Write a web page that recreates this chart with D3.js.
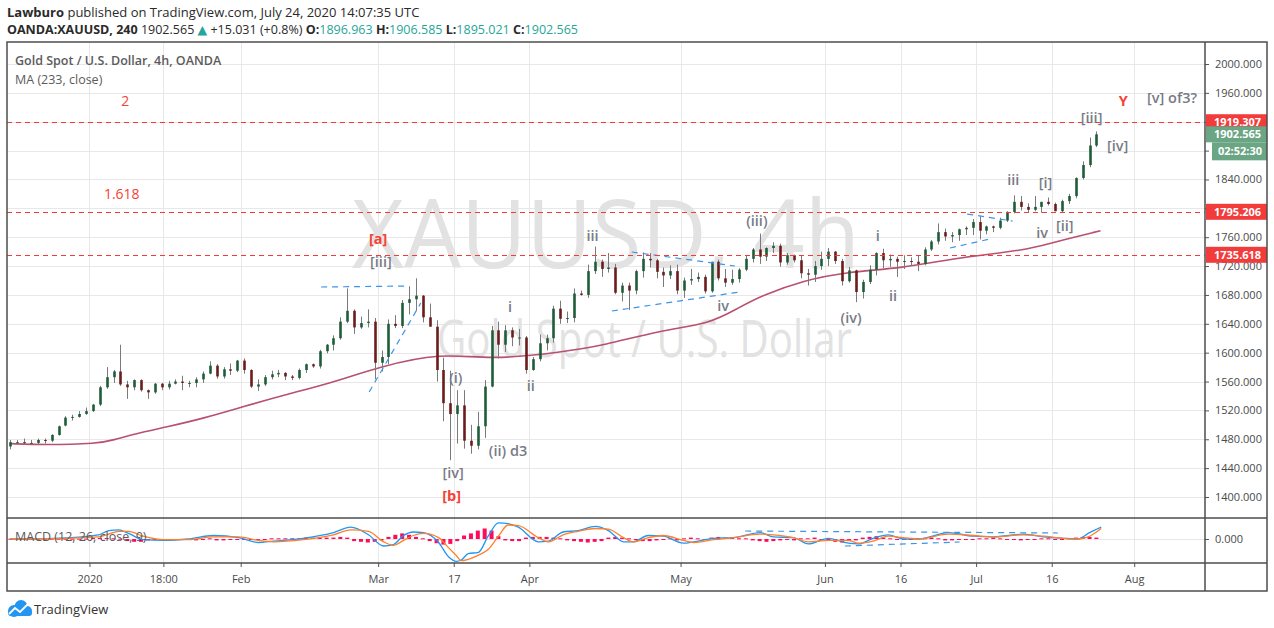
<!DOCTYPE html>
<html><head><meta charset="utf-8">
<script src="https://cdn.jsdelivr.net/npm/d3@7/dist/d3.min.js"></script>
<style>
html,body{margin:0;padding:0;background:#fff;}
svg{display:block;}
text{font-family:"Open Sans","Noto Sans","DejaVu Sans",sans-serif;}
</style></head><body>
<svg id="chart" width="1274" height="628"></svg>
<script>
// ================= DATA =================
const firstDay = "2019-12-13";
const holidays = ["2019-12-25", "2020-01-01"];
// daily [open, high, low, close], one row per trading day from firstDay
const ohlc = [
[1470,1479,1466,1476],[1476,1479,1473,1476],[1476,1481,1473,1475],[1475,1479,1473,1475],[1475,1481,1472,1479],
[1479,1481,1474,1478],[1478,1487,1476,1486],[1486,1499,1485,1498],[1499,1512,1498,1510],[1510,1514,1506,1511],
[1511,1519,1510,1515],[1515,1524,1514,1519],[1519,1529,1518,1528],[1528,1554,1526,1552],[1552,1580,1550,1566],
[1566,1576,1558,1574],[1574,1611,1554,1556],[1556,1561,1536,1552],[1552,1563,1548,1562],[1562,1563,1546,1548],
[1548,1549,1536,1545],[1545,1558,1543,1557],[1557,1558,1548,1552],[1552,1561,1549,1557],[1557,1563,1556,1560],
[1560,1568,1548,1558],[1558,1561,1552,1558],[1558,1566,1552,1563],[1563,1574,1558,1571],[1571,1588,1570,1582],
[1582,1584,1564,1567],[1567,1580,1564,1577],[1577,1585,1569,1575],[1575,1590,1573,1589],[1589,1592,1571,1576],
[1576,1577,1551,1553],[1553,1563,1547,1556],[1556,1569,1554,1566],[1566,1575,1563,1570],[1570,1576,1566,1572],
[1572,1573,1562,1567],[1567,1569,1562,1565],[1565,1578,1563,1576],[1576,1585,1572,1584],[1584,1585,1579,1581],
[1581,1604,1578,1602],[1602,1612,1599,1611],[1611,1624,1603,1620],[1620,1649,1618,1643],[1643,1689,1641,1658],
[1658,1660,1626,1635],[1635,1650,1633,1641],[1641,1660,1635,1643],[1643,1648,1563,1586],[1586,1603,1574,1594],
[1594,1646,1584,1640],[1640,1652,1634,1637],[1637,1673,1634,1669],[1669,1692,1653,1674],[1674,1703,1658,1679],
[1679,1680,1642,1649],[1649,1668,1636,1636],[1636,1645,1560,1576],[1576,1593,1505,1530],[1530,1575,1451,1515],
[1515,1548,1474,1527],[1527,1548,1467,1478],[1478,1500,1460,1471],[1471,1518,1466,1498],[1498,1562,1482,1553],
[1553,1637,1552,1631],[1631,1643,1592,1611],[1611,1638,1601,1631],[1631,1635,1609,1621],[1621,1633,1610,1621],
[1621,1623,1571,1576],[1576,1594,1575,1591],[1591,1625,1588,1613],[1613,1625,1603,1620],[1620,1665,1614,1661],
[1661,1672,1640,1647],[1647,1657,1641,1648],[1648,1689,1642,1682],[1682,1686,1679,1680],[1680,1722,1676,1713],
[1713,1747,1709,1726],[1726,1729,1705,1716],[1716,1738,1711,1718],[1718,1723,1681,1683],[1683,1697,1671,1693],
[1693,1697,1659,1686],[1686,1715,1681,1713],[1713,1739,1704,1730],[1730,1738,1718,1728],[1728,1730,1703,1712],
[1712,1718,1691,1707],[1707,1721,1702,1713],[1713,1722,1681,1686],[1686,1704,1676,1700],[1700,1716,1694,1702],
[1702,1711,1698,1705],[1705,1708,1682,1685],[1685,1726,1683,1726],[1726,1729,1700,1703],[1703,1716,1691,1697],
[1697,1715,1694,1702],[1702,1717,1697,1715],[1715,1735,1713,1730],[1730,1745,1725,1743],[1743,1765,1723,1733],
[1733,1746,1727,1745],[1745,1753,1738,1748],[1748,1751,1719,1725],[1725,1738,1722,1735],[1735,1736,1725,1728],
[1728,1735,1703,1710],[1710,1716,1693,1708],[1708,1727,1698,1720],[1720,1740,1715,1730],[1730,1745,1720,1740],
[1740,1741,1723,1727],[1727,1730,1693,1699],[1699,1719,1697,1714],[1714,1715,1670,1684],[1684,1701,1675,1698],
[1698,1721,1695,1715],[1715,1739,1707,1738],[1738,1744,1717,1728],[1728,1736,1719,1730],[1730,1733,1705,1726],
[1726,1735,1716,1727],[1727,1732,1720,1726],[1726,1734,1713,1723],[1723,1746,1721,1743],[1743,1756,1741,1754],
[1754,1779,1750,1767],[1767,1772,1755,1761],[1761,1767,1753,1763],[1763,1772,1755,1771],[1771,1775,1763,1773],
[1773,1785,1763,1781],[1781,1789,1757,1769],[1769,1776,1764,1775],[1775,1776,1767,1773],[1773,1787,1771,1783],
[1783,1796,1781,1795],[1795,1818,1793,1809],[1809,1817,1797,1802],[1802,1807,1794,1798],[1798,1817,1796,1802],
[1802,1809,1794,1809],[1809,1815,1804,1806],[1806,1808,1796,1796],[1796,1812,1795,1810],[1810,1820,1806,1817],
[1817,1843,1814,1842],[1842,1865,1840,1860],[1860,1898,1857,1887],[1887,1906.585,1885,1902.565]
];
// MA (233, close) read at trading-day positions
const maDay   = [0,4.8,12.8,15,17.9,22.7,28.1,33.8,39.7,47,53.5,62.6,69.8,80.4,86.3,94.6,101.8,105.9,109.5,115.4,121.6,129.9,137.2,147.8,151.7,158.6];
const maValue = [1474,1472,1474,1479,1487,1497,1509,1525,1541,1559,1580,1600,1590,1601,1610,1631,1640,1662,1680,1700,1712,1717,1731,1742,1753,1769];
// MACD (12, 26, close, 9)
const macdDay = [0,6.3,12.8,14.3,15.7,17.2,19.3,22.3,25.9,29.5,33.2,36.1,38.3,42.6,47,49.5,52.1,54.3,55.7,57.2,58.6,60.1,62.3,63.7,64.9,65.6,66.6,68.1,69.5,71,72.4,73.9,76.8,78.3,80.4,82.6,85.1,87,89.2,90.6,92.8,95,97.9,99.4,102.3,105.2,109.1,111,113.9,116.1,119,121.9,123.4,125.5,127.7,129.9,132.1,136.5,140.1,143,147.4,150.3,153.2,155.4,156.8,158.7];
const macdValue = [0,1,6,12,13,8,-1,-2,0,5,2,-5,-3,1,9,17,6,-10,-8,5,10,9,-5,-25,-32,-30,-21,-19,4,23,22,17,-4,-3,10,12,18,12,-4,-4,5,4,-6,-4,1,2,9,3,2,-7,1,-6,-7,1,6,0,0,9,4,3,7,3,1,0,8,17];
const signalValue = [0,0.5,3,7,11,11,4,-1,-1,3,3,-2,-4,-1,6,13,11,-4,-9,-2,5,8,2,-12,-24,-31,-29,-23,-15,4,20,19,2,-4,6,11,15,14,2,-4,2,5,-2,-5,-1,2,7,6,2,-4,-2,-2,-6,-3,4,2,0,7,5,3,6,4,1,0,3,15];
// MACD histogram, one value per trading day
const histValue = [
0.5,0.5,0.5,0.5,0.5,0.5,0.5,0.5,0.5,0.5,0.5,0.5,1.5,1.5,1.5,1,0.5,
-3,-4,-4,-2, -1,0,0,-1,-1, -1,-2,-1,1, -2,-2,-1,-1,
0,-1,-1,0,1,1,1, 1,1,2,2,2,2, 2,3,2, -3,-4,-5,-4,
-2,3,6, 8,6,3, 1,-3,-6, -8,-7,-3, 5,8,12,15,12, 4,-2,-3,-3,
2,3,3,3,2,1, -2,-3,-4,-5,-4,-3, 2,3,2,1,-1, -3,-3,-2,-1,
1,-2,1,2,1,-1, 2,3,2,2,1,1, -2,-3,-4,-3,-2,-1,-2, 1,1,2,-1,-2,
-4,-5,-3,-2,2, 3,4,2,1,-1, -1,0,1,1,2,1, -2,-2,-1,-1,0,1,
1,2,1,0,-1, -2,-1,-1,1,1,0,-1, 1,2,3,3,2
];

const priceTicks = [1400,1440,1480,1520,1560,1600,1640,1680,1720,1760,1800,1840,1880,1920,1960,2000];
const macdTicks = [0];
const timeTicks = [["2020-01-02","2020"],["2020-01-16 18:00","18:00"],["2020-02-03","Feb"],["2020-03-02","Mar"],
  ["2020-03-17","17"],["2020-04-01","Apr"],["2020-05-01","May"],["2020-06-01","Jun"],["2020-06-16","16"],
  ["2020-07-01","Jul"],["2020-07-16","16"],["2020-08-03","Aug"]];
const levelPrices = [1919.307, 1795.206, 1735.618];
const lastPrice = 1902.565;
const countdown = "02:52:30";
// annotations: [text, day position, price]
const redNotes = [["2",17.2,1948.7],["1.618",16.7,1819.8]];
const redWaves = [["[a]",54.0,1757.5],["[b]",64.7,1401.4],["Y",162.4,1948.7]];
const grayWaves = [["[iii]",54.4,1725.6],["(i)",65.3,1564.9],["[iv]",64.9,1433.3],["(ii) d3",72.9,1463.7],
  ["i",73.2,1663.3],["ii",76.2,1553.8],["iii",85.2,1761.6],["iv",104.2,1664.7],["(iii)",109.1,1782.4],
  ["(iv)",122.8,1648.0],["i",126.7,1761.6],["ii",128.9,1678.5],["iii",146.4,1839.2],["[i]",151.1,1835.1],
  ["iv",150.6,1765.8],["[ii]",153.9,1775.5],["[iii]",157.8,1925.2],["[iv]",161.6,1886.4],["[v] of3?",169.5,1952.9]];
// trend lines [day1, price1, day2, price2]
const trendLines = [[45.7,1691.0,58.3,1692.4],[52.7,1545.5,60.2,1668.8],[90.9,1739.5,105.9,1720.1],
  [88.0,1657.7,106.6,1684.1],[137.2,1745.0,143.0,1757.5],[139.7,1792.1,146.3,1782.4]];
// MACD-pane lines [day1, value1, day2, value2]
const macdLines = [[107.4,11.4,152.9,8.6],[121.9,-10,138.6,-4.3]];

// ================= LAYOUT =================
const L = 7, R = 1205, OR = 1267, TOP = 42, MB = 518, DB = 563, AB = 591;
const visibleSlots = 174.3;
const fmtD = d3.timeFormat("%Y-%m-%d"), parseD = d3.timeParse("%Y-%m-%d");
const allDays = d3.timeDay.range(parseD(firstDay), parseD("2020-09-30"))
  .filter(d => d.getDay() % 6 !== 0 && !holidays.includes(fmtD(d)));
const dayIndex = new Map(allDays.map((d, i) => [fmtD(d), i]));
function tickPos(s) {
  const [ds, hm] = s.split(" ");
  let i = dayIndex.get(ds);
  if (hm) { const [h, m] = hm.split(":").map(Number); i += (h + m / 60) / 24; }
  return i;
}

const x = d3.scaleLinear().domain([0, visibleSlots]).range([L, R]);
const y = d3.scaleLinear().domain([1400, 2000]).range([497, 64]);
const ym = d3.scaleLinear().domain([-10, 10]).range([546, 532]);

const svg = d3.select("#chart");
const defs = svg.append("defs");
defs.append("clipPath").attr("id", "cm").append("rect").attr("x", L).attr("y", TOP).attr("width", R - L).attr("height", MB - TOP);
defs.append("clipPath").attr("id", "cd").append("rect").attr("x", L).attr("y", MB).attr("width", R - L).attr("height", DB - MB);

svg.append("rect").attr("width", 1274).attr("height", 628).attr("fill", "#fff");

// ---- header ----
const h1 = svg.append("text").attr("x", 7).attr("y", 17).attr("font-size", 13).attr("fill", "#2a2a2a");
h1.append("tspan").attr("font-weight", 700).text("Lawburo");
h1.append("tspan").text(" published on TradingView.com, July 24, 2020 14:07:35 UTC");
const teal = "#26a69a";
const h2 = svg.append("text").attr("x", 7).attr("y", 34).attr("font-size", 12.5).attr("fill", "#2a2a2a")
  .attr("textLength", 571).attr("lengthAdjust", "spacingAndGlyphs");
h2.append("tspan").attr("font-weight", 700).text("OANDA:XAUUSD, 240");
h2.append("tspan").text(" 1902.565 ");
h2.append("tspan").attr("fill", teal).text("▲");
h2.append("tspan").text(" +15.031 (+0.8%) ");
[["O:", "1896.963"], ["H:", "1906.585"], ["L:", "1895.021"], ["C:", "1902.565"]].forEach((p, k) => {
  h2.append("tspan").attr("font-weight", 700).text((k ? " " : "") + p[0]);
  h2.append("tspan").attr("fill", teal).text(p[1]);
});

// ---- grid ----
const grid = svg.append("g").attr("stroke", "#e8e8e8").attr("stroke-width", 1);
priceTicks.forEach(p => grid.append("line").attr("x1", L).attr("x2", R).attr("y1", Math.round(y(p)) + 0.5).attr("y2", Math.round(y(p)) + 0.5));
timeTicks.forEach(t => { const xx = Math.round(x(tickPos(t[0]))) + 0.5; grid.append("line").attr("x1", xx).attr("x2", xx).attr("y1", TOP).attr("y2", DB); });
macdTicks.forEach(v => grid.append("line").attr("x1", L).attr("x2", R).attr("y1", Math.round(ym(v)) + 0.5).attr("y2", Math.round(ym(v)) + 0.5));

// ---- watermark ----
const wm = svg.append("g").attr("clip-path", "url(#cm)").attr("fill", "#e2e2e2");
wm.append("text").attr("x", 352).attr("y", 268).attr("font-size", 96).attr("textLength", 508).attr("lengthAdjust", "spacingAndGlyphs").text("XAUUSD, 4h");
wm.append("text").attr("x", 437).attr("y", 357).attr("font-size", 52).attr("textLength", 415).attr("lengthAdjust", "spacingAndGlyphs").text("Gold Spot / U.S. Dollar");

// ---- main pane ----
const main = svg.append("g").attr("clip-path", "url(#cm)");
// MA
main.append("path").datum(maDay.map((d, i) => [d, maValue[i]]))
  .attr("fill", "none").attr("stroke", "#b9506f").attr("stroke-width", 1.6)
  .attr("d", d3.line().x(d => x(d[0] + 0.5)).y(d => y(d[1])).curve(d3.curveBasis));
// candles
const bw = 2.6;
const cg = main.append("g");
cg.selectAll("line.w").data(ohlc).join("line")
  .attr("x1", (d, i) => Math.round(x(i + 0.5)) + 0.5).attr("x2", (d, i) => Math.round(x(i + 0.5)) + 0.5)
  .attr("y1", d => y(d[1])).attr("y2", d => y(d[2])).attr("stroke", "#7a7a7a").attr("stroke-width", 1);
cg.selectAll("rect.b").data(ohlc).join("rect")
  .attr("x", (d, i) => Math.round(x(i + 0.5)) + 0.5 - bw / 2).attr("width", bw)
  .attr("y", d => y(Math.max(d[0], d[3])))
  .attr("height", d => Math.max(1, Math.abs(y(d[0]) - y(d[3]))))
  .attr("fill", d => d[3] >= d[0] ? "#1f5c38" : "#6b1d1d");
// trend lines
main.selectAll("line.t").data(trendLines).join("line")
  .attr("x1", d => x(d[0])).attr("y1", d => y(d[1])).attr("x2", d => x(d[2])).attr("y2", d => y(d[3]))
  .attr("stroke", "#3d95e6").attr("stroke-width", 1.2).attr("stroke-dasharray", "6,5");
// level lines
main.selectAll("line.l").data(levelPrices).join("line")
  .attr("x1", L).attr("x2", R).attr("y1", d => Math.round(y(d)) + 0.5).attr("y2", d => Math.round(y(d)) + 0.5)
  .attr("stroke", "#f23b3b").attr("stroke-width", 1).attr("stroke-dasharray", "5,4");
// annotations
function notes(arr, fill, size, weight) {
  main.append("g").selectAll("text").data(arr).join("text")
    .attr("x", d => x(d[1])).attr("y", d => y(d[2])).attr("text-anchor", "middle").attr("dy", "0.35em")
    .attr("fill", fill).attr("font-size", size).attr("font-weight", weight).text(d => d[0]);
}
notes(redNotes, "#f44336", 14, 400);
notes(redWaves, "#f44336", 14.5, 700);
notes(grayWaves, "#787b86", 14.5, 600);

// legend
const lg = svg.append("g").attr("fill", "#5b5b5b").attr("font-size", 12.5);
lg.append("text").attr("x", 15).attr("y", 65).attr("font-weight", 600).text("Gold Spot / U.S. Dollar, 4h, OANDA");
lg.append("text").attr("x", 15).attr("y", 84).text("MA (233, close)");

// ---- MACD pane ----
const mp = svg.append("g").attr("clip-path", "url(#cd)");
mp.selectAll("rect.h").data(histValue).join("rect")
  .attr("x", (d, i) => x(i + 0.5) - 2).attr("width", 4)
  .attr("y", d => Math.min(ym(d), ym(0))).attr("height", d => Math.max(1, Math.abs(ym(d) - ym(0))))
  .attr("fill", "#ff0a5c");
const md = macdDay.map((d, i) => ({d, m: macdValue[i], s: signalValue[i]}));
mp.append("path").datum(md).attr("fill", "none").attr("stroke", "#2196f3").attr("stroke-width", 1.3)
  .attr("d", d3.line().x(p => x(p.d + 0.5)).y(p => ym(p.m)).curve(d3.curveMonotoneX));
mp.append("path").datum(md).attr("fill", "none").attr("stroke", "#ff7f2a").attr("stroke-width", 1.3)
  .attr("d", d3.line().x(p => x(p.d + 0.5)).y(p => ym(p.s)).curve(d3.curveMonotoneX));
mp.selectAll("line.ml").data(macdLines).join("line")
  .attr("x1", d => x(d[0])).attr("y1", d => ym(d[1])).attr("x2", d => x(d[2])).attr("y2", d => ym(d[3]))
  .attr("stroke", "#3d95e6").attr("stroke-width", 1.2).attr("stroke-dasharray", "6,5");
svg.append("text").attr("x", 15).attr("y", 541).attr("font-size", 12.5).attr("fill", "#5b5b5b").text("MACD (12, 26, close, 9)");

// ---- axes ----
const ya = svg.append("g").attr("transform", `translate(${R},0)`)
  .call(d3.axisRight(y).tickValues(priceTicks).tickFormat(d3.format(".3f")).tickSize(4).tickPadding(6));
const yma = svg.append("g").attr("transform", `translate(${R},0)`)
  .call(d3.axisRight(ym).tickValues(macdTicks).tickFormat(d3.format(".3f")).tickSize(4).tickPadding(6));
const xa = svg.append("g").attr("transform", `translate(0,${DB})`)
  .call(d3.axisBottom(x).tickValues(timeTicks.map(t => tickPos(t[0]))).tickFormat((d, i) => timeTicks[i][1]).tickSize(4).tickPadding(8));
[ya, yma, xa].forEach(a => {
  a.select(".domain").remove();
  a.selectAll("line").attr("stroke", "#555");
  a.selectAll("text").attr("fill", "#4a4a4a").attr("font-size", 11).attr("font-family", "'Open Sans','Noto Sans',sans-serif");
});

// ---- price labels on axis ----
const boxes = svg.append("g");
function priceBox(val, label, fill, x0) {
  const yy = y(val);
  boxes.append("rect").attr("x", x0).attr("y", yy - 8).attr("width", OR - x0).attr("height", 16).attr("fill", fill);
  boxes.append("text").attr("x", x0 + 8).attr("y", yy).attr("dy", "0.35em").attr("fill", "#fff")
    .attr("font-size", 11).attr("font-weight", 700).text(label);
}
levelPrices.forEach(p => priceBox(p, d3.format(".3f")(p), "#f23b3b", R + 1));
priceBox(lastPrice, d3.format(".3f")(lastPrice), "#6aa584", R + 1);
{
  const yy = y(lastPrice) + 17;
  boxes.append("rect").attr("x", R + 7).attr("y", yy - 9).attr("width", OR - R - 7).attr("height", 18).attr("fill", "#6aa584");
  boxes.append("text").attr("x", R + 13).attr("y", yy).attr("dy", "0.35em").attr("fill", "#fff")
    .attr("font-size", 11).attr("font-weight", 700).text(countdown);
}

// ---- frame ----
const fr = svg.append("g").attr("stroke", "#4d4d4d").attr("stroke-width", 1.5).attr("fill", "none");
fr.append("rect").attr("x", L).attr("y", TOP).attr("width", OR - L).attr("height", AB - TOP);
fr.append("line").attr("x1", R).attr("x2", R).attr("y1", TOP).attr("y2", AB);
fr.append("line").attr("x1", L).attr("x2", OR).attr("y1", MB).attr("y2", MB);
fr.append("line").attr("x1", L).attr("x2", OR).attr("y1", DB).attr("y2", DB);

// ---- footer logo ----
const logo = svg.append("g");
logo.append("circle").attr("cx", 14).attr("cy", 611).attr("r", 6).attr("fill", "#2196f3");
logo.append("circle").attr("cx", 21).attr("cy", 606.5).attr("r", 6.5).attr("fill", "#2196f3");
logo.append("circle").attr("cx", 27).attr("cy", 611).attr("r", 5).attr("fill", "#2196f3");
logo.append("rect").attr("x", 8).attr("y", 610).attr("width", 24).attr("height", 6).attr("rx", 3).attr("fill", "#2196f3");
logo.append("polyline").attr("points", "9,614 15,608 20,612 28,604").attr("fill", "none").attr("stroke", "#fff").attr("stroke-width", 1.8);
svg.append("text").attr("x", 34).attr("y", 614).attr("font-size", 13).attr("fill", "#333").text("TradingView");
</script>
</body></html>
